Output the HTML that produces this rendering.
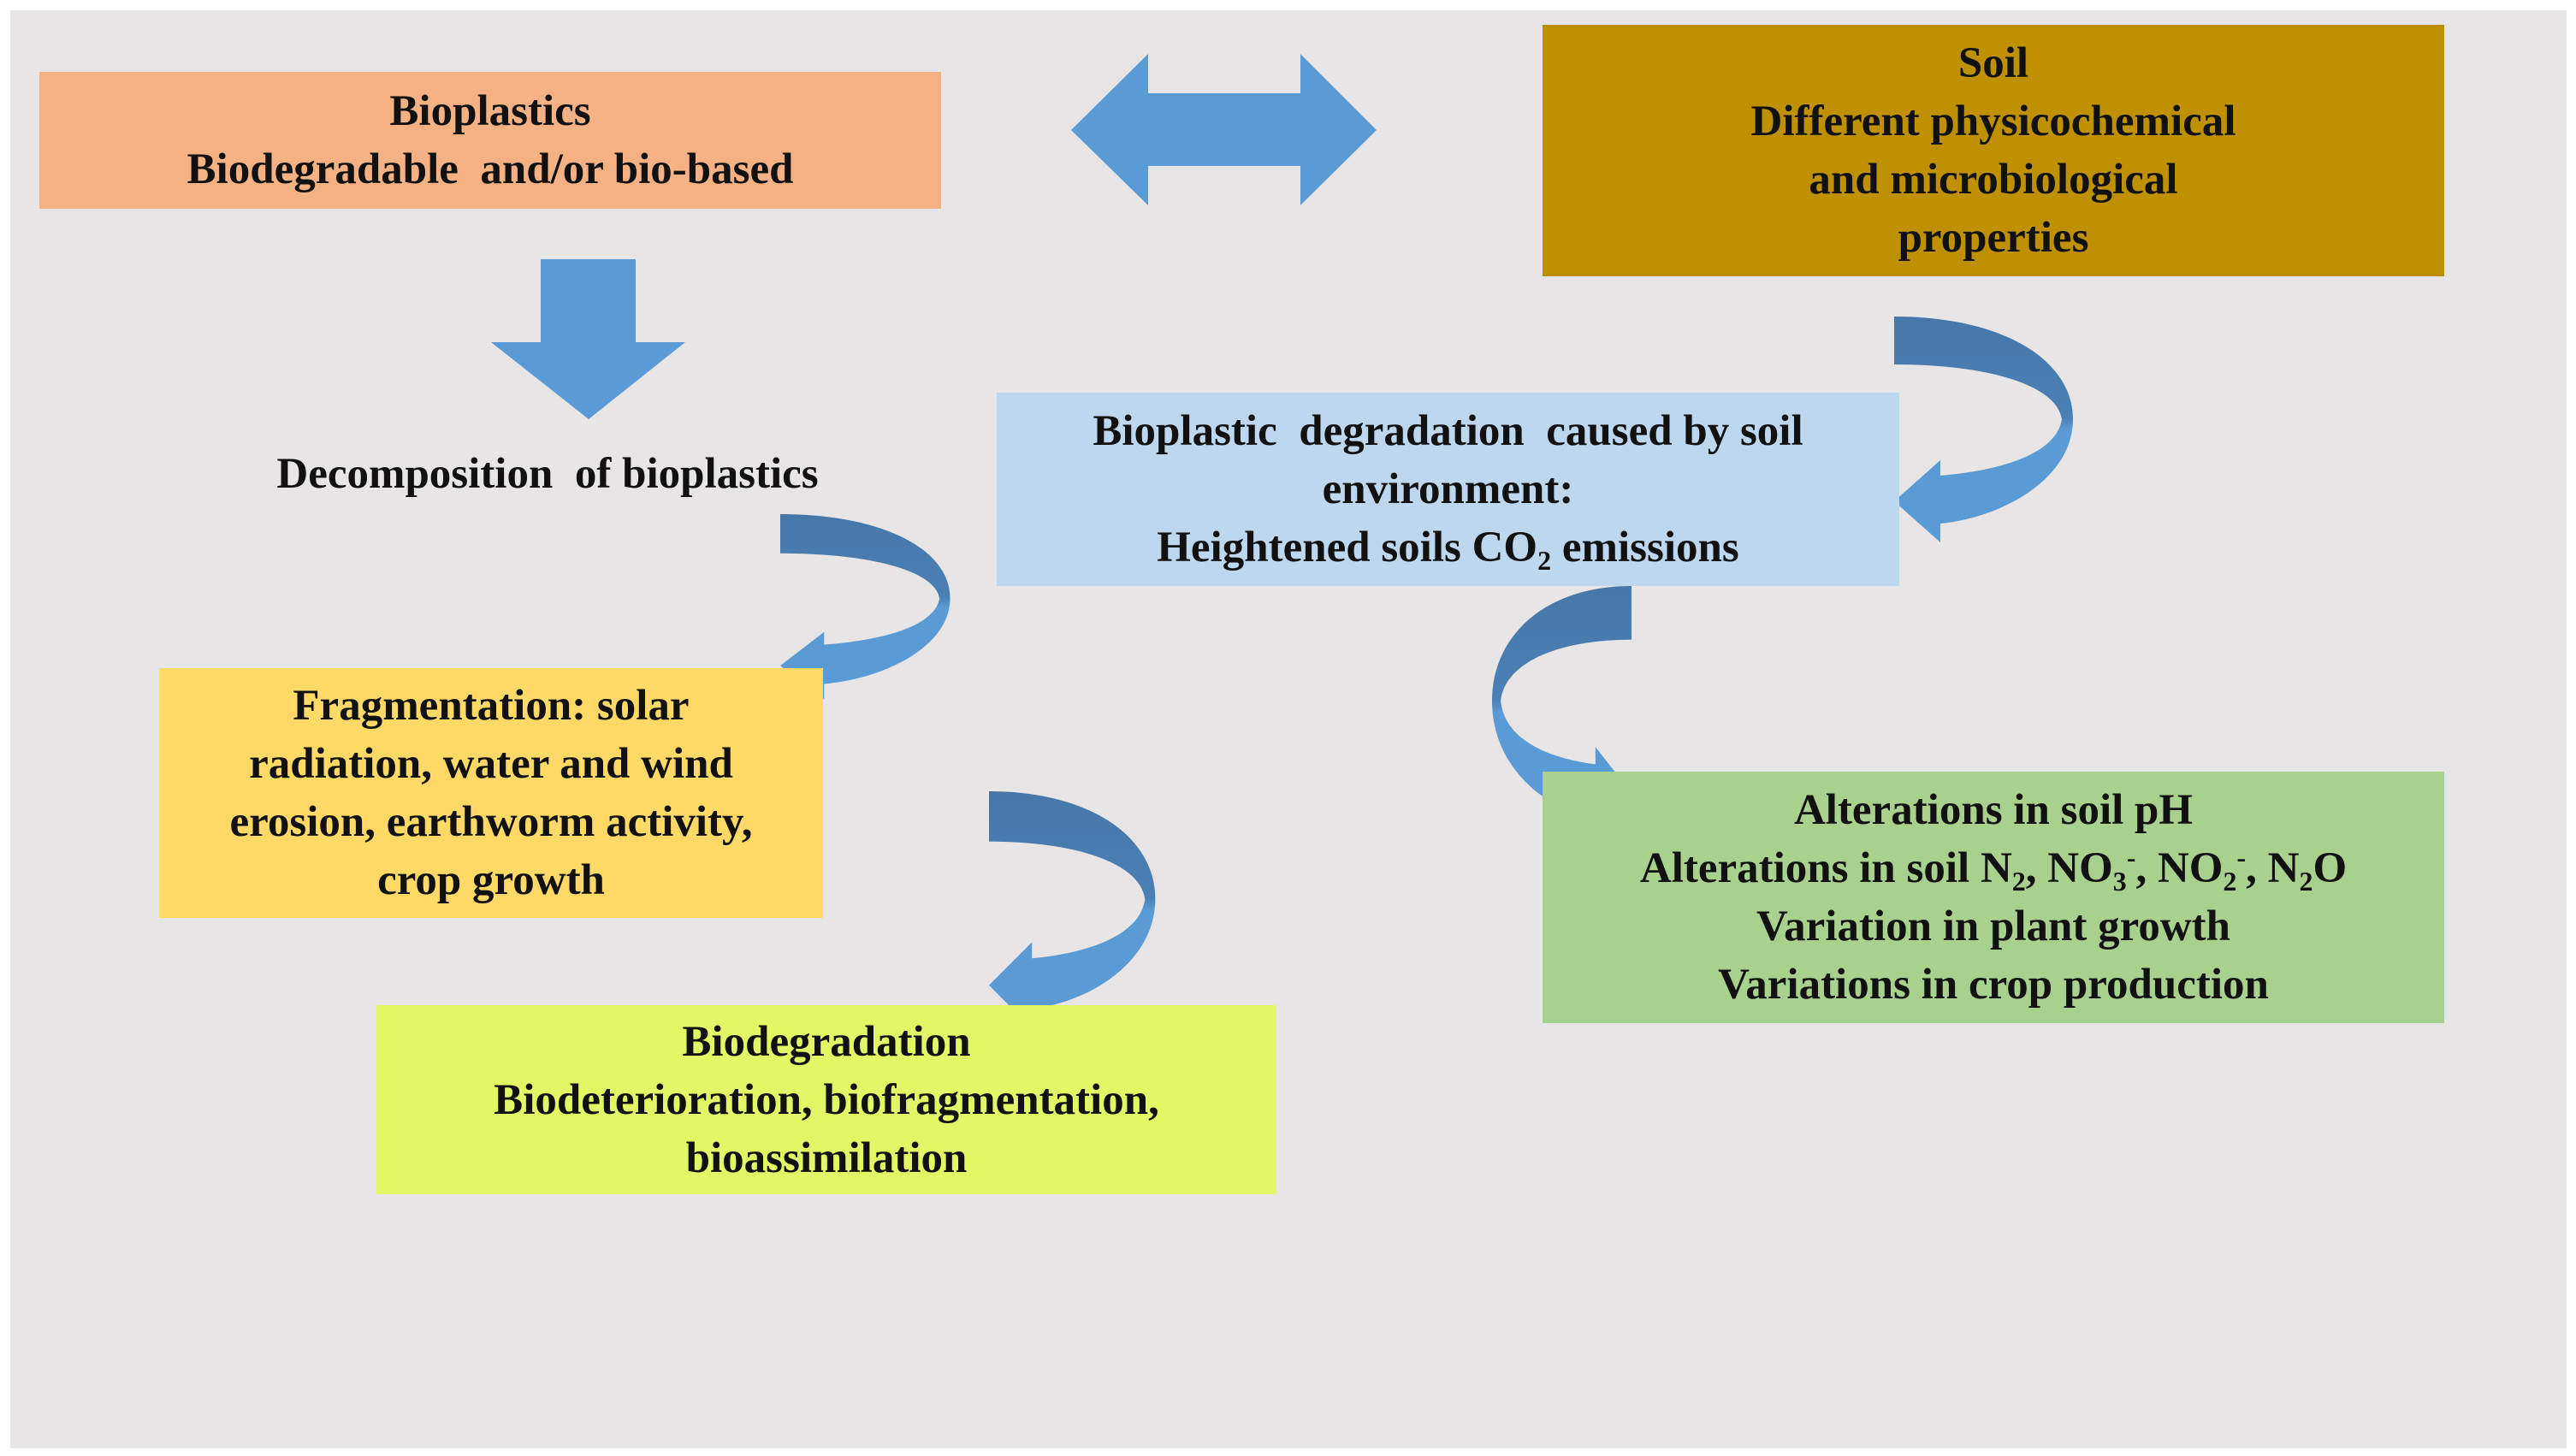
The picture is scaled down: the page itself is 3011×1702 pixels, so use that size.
<!DOCTYPE html>
<html><head><meta charset="utf-8"><style>
body{margin:0;width:3011px;height:1702px;background:#fff;position:relative;overflow:hidden;font-family:"Liberation Serif",serif;}
.bg{position:absolute;left:12px;top:12px;width:2988px;height:1681px;background:#e7e5e5;}
.b{position:absolute;display:flex;flex-direction:column;justify-content:center;align-items:center;text-align:center;font-size:51px;line-height:68px;font-weight:bold;color:#111;}
sub{font-size:32px;line-height:0;vertical-align:-10px}
sup{font-size:32px;line-height:0;vertical-align:18px}
svg{position:absolute;left:0;top:0}
</style></head><body>
<div class="bg"></div>
<svg width="3011" height="1702">
<defs>
<linearGradient id="g" x1="0" y1="0" x2="0" y2="1">
<stop offset="0" stop-color="#4677a8"/><stop offset="0.45" stop-color="#4b80b5"/><stop offset="0.5" stop-color="#5b9bd5"/><stop offset="1" stop-color="#5b9bd5"/>
</linearGradient>
<path id="ca" d="M0,0 C126,0 209,50 209,120 C209,190 126,235 54,242 L54,264 L0,216 L54,168 L54,186 C126,180 190,160 196,120 C190,80 110,56 0,56 Z"/>
</defs>
<polygon fill="#5b9bd5" points="1252,152 1342,63 1342,109 1520,109 1520,63 1609,152 1520,240 1520,194 1342,194 1342,240"/>
<polygon fill="#5b9bd5" points="632,303 743,303 743,400 801,400 688,490 574,400 632,400"/>
<use href="#ca" fill="url(#g)" transform="translate(912,601) scale(0.95,0.82)"/>
<use href="#ca" fill="url(#g)" transform="translate(1156,925) scale(0.93,1.05)"/>
<use href="#ca" fill="url(#g)" transform="translate(2214,370) scale(1,1)"/>
<use href="#ca" fill="url(#g)" transform="translate(1907,685) scale(-0.78,1.12)"/>
</svg>
<div class="b" style="left:46px;top:84px;width:1054px;height:160px;background:#f4b183">Bioplastics<br>Biodegradable&nbsp; and/or bio-based</div>
<div class="b" style="left:1803px;top:29px;width:1054px;height:294px;background:#bf9000">Soil<br>Different physicochemical<br>and microbiological<br>properties</div>
<div class="b" style="left:200px;top:520px;width:880px;height:68px;">Decomposition&nbsp; of bioplastics</div>
<div class="b" style="left:1165px;top:459px;width:1055px;height:226px;background:#bdd7ee">Bioplastic&nbsp; degradation&nbsp; caused by soil<br>environment:<br><span>Heightened soils CO<sub>2</sub> emissions</span></div>
<div class="b" style="left:186px;top:781px;width:776px;height:292px;background:#ffd966">Fragmentation: solar<br>radiation, water and wind<br>erosion, earthworm activity,<br>crop growth</div>
<div class="b" style="left:1803px;top:902px;width:1054px;height:294px;background:#a9d18e">Alterations in soil pH<br><span>Alterations in soil N<sub>2</sub>, NO<sub>3</sub><sup>-</sup>, NO<sub>2</sub><sup>-</sup>, N<sub>2</sub>O</span>Variation in plant growth<br>Variations in crop production</div>
<div class="b" style="left:440px;top:1175px;width:1052px;height:221px;background:#e2f766">Biodegradation<br>Biodeterioration, biofragmentation,<br>bioassimilation</div>
</body></html>
